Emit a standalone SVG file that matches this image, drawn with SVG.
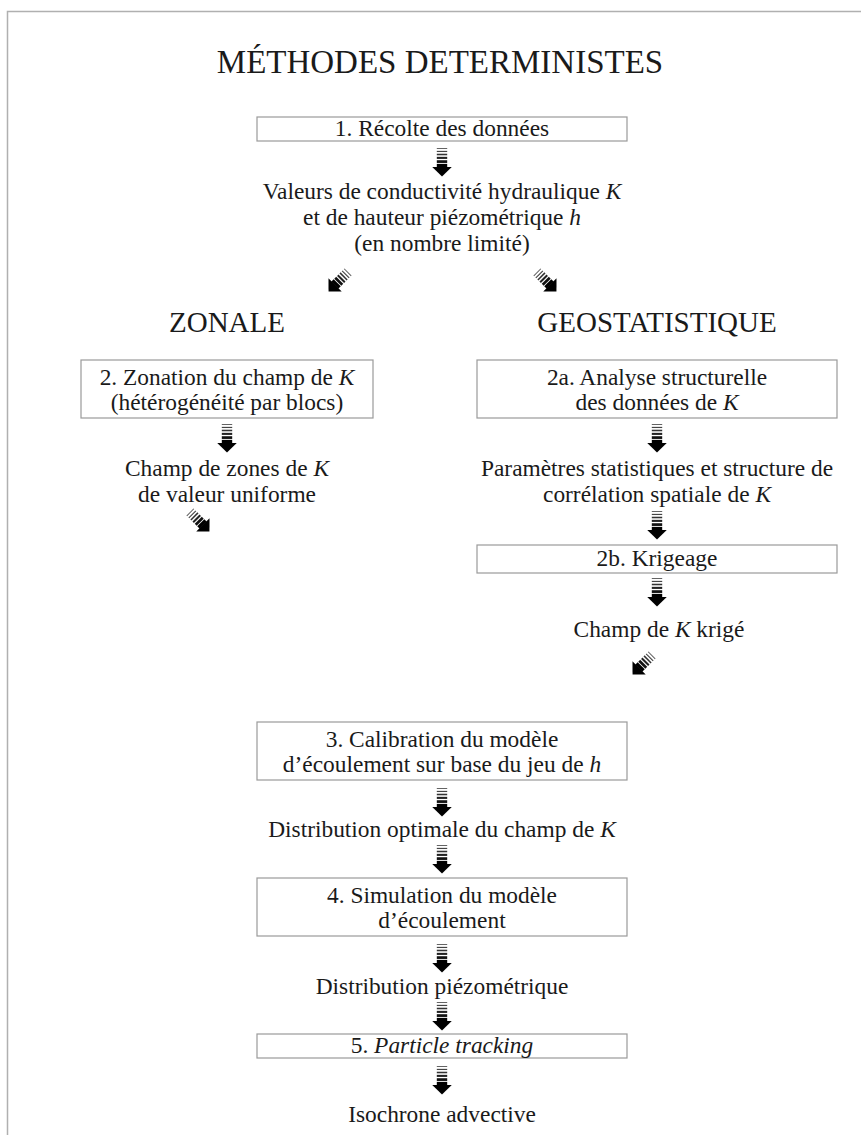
<svg xmlns="http://www.w3.org/2000/svg" xmlns:xlink="http://www.w3.org/1999/xlink" width="861" height="1135" viewBox="0 0 861 1135">
  <style>
    text { font-family: "Liberation Serif", "Times New Roman", serif; fill: #1a1a1a; text-anchor: middle; }
    .t { font-size: 23.4px; }
    .title { font-size: 33px; }
    .head { font-size: 29px; }
    .box { fill: #ffffff; stroke: #9a9a9a; stroke-width: 1.2; }
    .frame { fill: none; stroke: #b0b0b0; stroke-width: 1.5; }
    .it { font-style: italic; }
  </style>
  <defs>
    <!-- striped block arrow pointing down, origin at top centre -->
    <g id="arr">
      <rect x="-4" y="0" width="8" height="0.7" fill="#555"/>
      <rect x="-4" y="2.2" width="8" height="0.9" fill="#444"/>
      <rect x="-4" y="4.4" width="8" height="1.2" fill="#333"/>
      <rect x="-4" y="6.8" width="8" height="1.6" fill="#222"/>
      <rect x="-4" y="9.4" width="8" height="2.1" fill="#111"/>
      <rect x="-4" y="12.2" width="8" height="2.8" fill="#000"/>
      <polygon points="-7.5,14.6 7.5,14.6 0,22" fill="#000"/>
    </g>
  </defs>

  <!-- outer frame -->
  <path class="frame" d="M7.5,1135 V11.5 H861"/>

  <g id="title">
    <text class="title" x="440" y="73">MÉTHODES DETERMINISTES</text>
  </g>

  <g id="n1">
    <rect class="box" x="257" y="117" width="370" height="24"/>
    <text class="t" x="442" y="136">1. Récolte des données</text>
  </g>

  <g id="n-donnees">
    <text class="t" x="442" y="199">Valeurs de conductivité hydraulique <tspan class="it">K</tspan></text>
    <text class="t" x="442" y="225">et de hauteur piézométrique <tspan class="it">h</tspan></text>
    <text class="t" x="442" y="251">(en nombre limité)</text>
  </g>

  <g id="h-zonale">
    <text class="head" x="227" y="332">ZONALE</text>
  </g>
  <g id="h-geostat">
    <text class="head" x="657" y="332">GEOSTATISTIQUE</text>
  </g>

  <g id="n2">
    <rect class="box" x="81" y="360" width="292" height="58"/>
    <text class="t" x="227" y="385">2. Zonation du champ de <tspan class="it">K</tspan></text>
    <text class="t" x="227" y="410">(hétérogénéité par blocs)</text>
  </g>

  <g id="n2a">
    <rect class="box" x="477" y="360" width="360" height="58"/>
    <text class="t" x="657" y="385">2a. Analyse structurelle</text>
    <text class="t" x="657" y="410">des données de <tspan class="it">K</tspan></text>
  </g>

  <g id="n-zones">
    <text class="t" x="227" y="476">Champ de zones de <tspan class="it">K</tspan></text>
    <text class="t" x="227" y="502">de valeur uniforme</text>
  </g>

  <g id="n-params">
    <text class="t" x="657" y="476">Paramètres statistiques et structure de</text>
    <text class="t" x="657" y="502">corrélation spatiale de <tspan class="it">K</tspan></text>
  </g>

  <g id="n2b">
    <rect class="box" x="477" y="545" width="360" height="28"/>
    <text class="t" x="657" y="566">2b. Krigeage</text>
  </g>

  <g id="n-krige">
    <text class="t" x="659" y="637">Champ de <tspan class="it">K</tspan> krigé</text>
  </g>

  <g id="n3">
    <rect class="box" x="257" y="722" width="370" height="58"/>
    <text class="t" x="442" y="747">3. Calibration du modèle</text>
    <text class="t" x="442" y="772">d’écoulement sur base du jeu de <tspan class="it">h</tspan></text>
  </g>

  <g id="n-optimale">
    <text class="t" x="442" y="837">Distribution optimale du champ de <tspan class="it">K</tspan></text>
  </g>

  <g id="n4">
    <rect class="box" x="257" y="878" width="370" height="58"/>
    <text class="t" x="442" y="903">4. Simulation du modèle</text>
    <text class="t" x="442" y="928">d’écoulement</text>
  </g>

  <g id="n-piezo">
    <text class="t" x="442" y="994">Distribution piézométrique</text>
  </g>

  <g id="n5">
    <rect class="box" x="257" y="1034" width="370" height="24"/>
    <text class="t" x="442" y="1053">5. <tspan class="it">Particle tracking</tspan></text>
  </g>

  <g id="n-isochrone">
    <text class="t" x="442" y="1122">Isochrone advective</text>
  </g>

  <g id="connectors">
    <use xlink:href="#arr" href="#arr" transform="translate(442,148) scale(1.3)"/>
    <use xlink:href="#arr" href="#arr" transform="translate(348,272) rotate(45) scale(1.25)"/>
    <use xlink:href="#arr" href="#arr" transform="translate(537,272) rotate(-45) scale(1.25)"/>
    <use xlink:href="#arr" href="#arr" transform="translate(227,424) scale(1.3)"/>
    <use xlink:href="#arr" href="#arr" transform="translate(657,424) scale(1.3)"/>
    <use xlink:href="#arr" href="#arr" transform="translate(657,511) scale(1.3)"/>
    <use xlink:href="#arr" href="#arr" transform="translate(657,578) scale(1.3)"/>
    <use xlink:href="#arr" href="#arr" transform="translate(190,512) rotate(-45) scale(1.25)"/>
    <use xlink:href="#arr" href="#arr" transform="translate(652,655) rotate(45) scale(1.25)"/>
    <use xlink:href="#arr" href="#arr" transform="translate(442,788) scale(1.3)"/>
    <use xlink:href="#arr" href="#arr" transform="translate(442,845) scale(1.3)"/>
    <use xlink:href="#arr" href="#arr" transform="translate(442,944) scale(1.3)"/>
    <use xlink:href="#arr" href="#arr" transform="translate(442,1002) scale(1.3)"/>
    <use xlink:href="#arr" href="#arr" transform="translate(442,1066) scale(1.3)"/>
  </g>
</svg>
